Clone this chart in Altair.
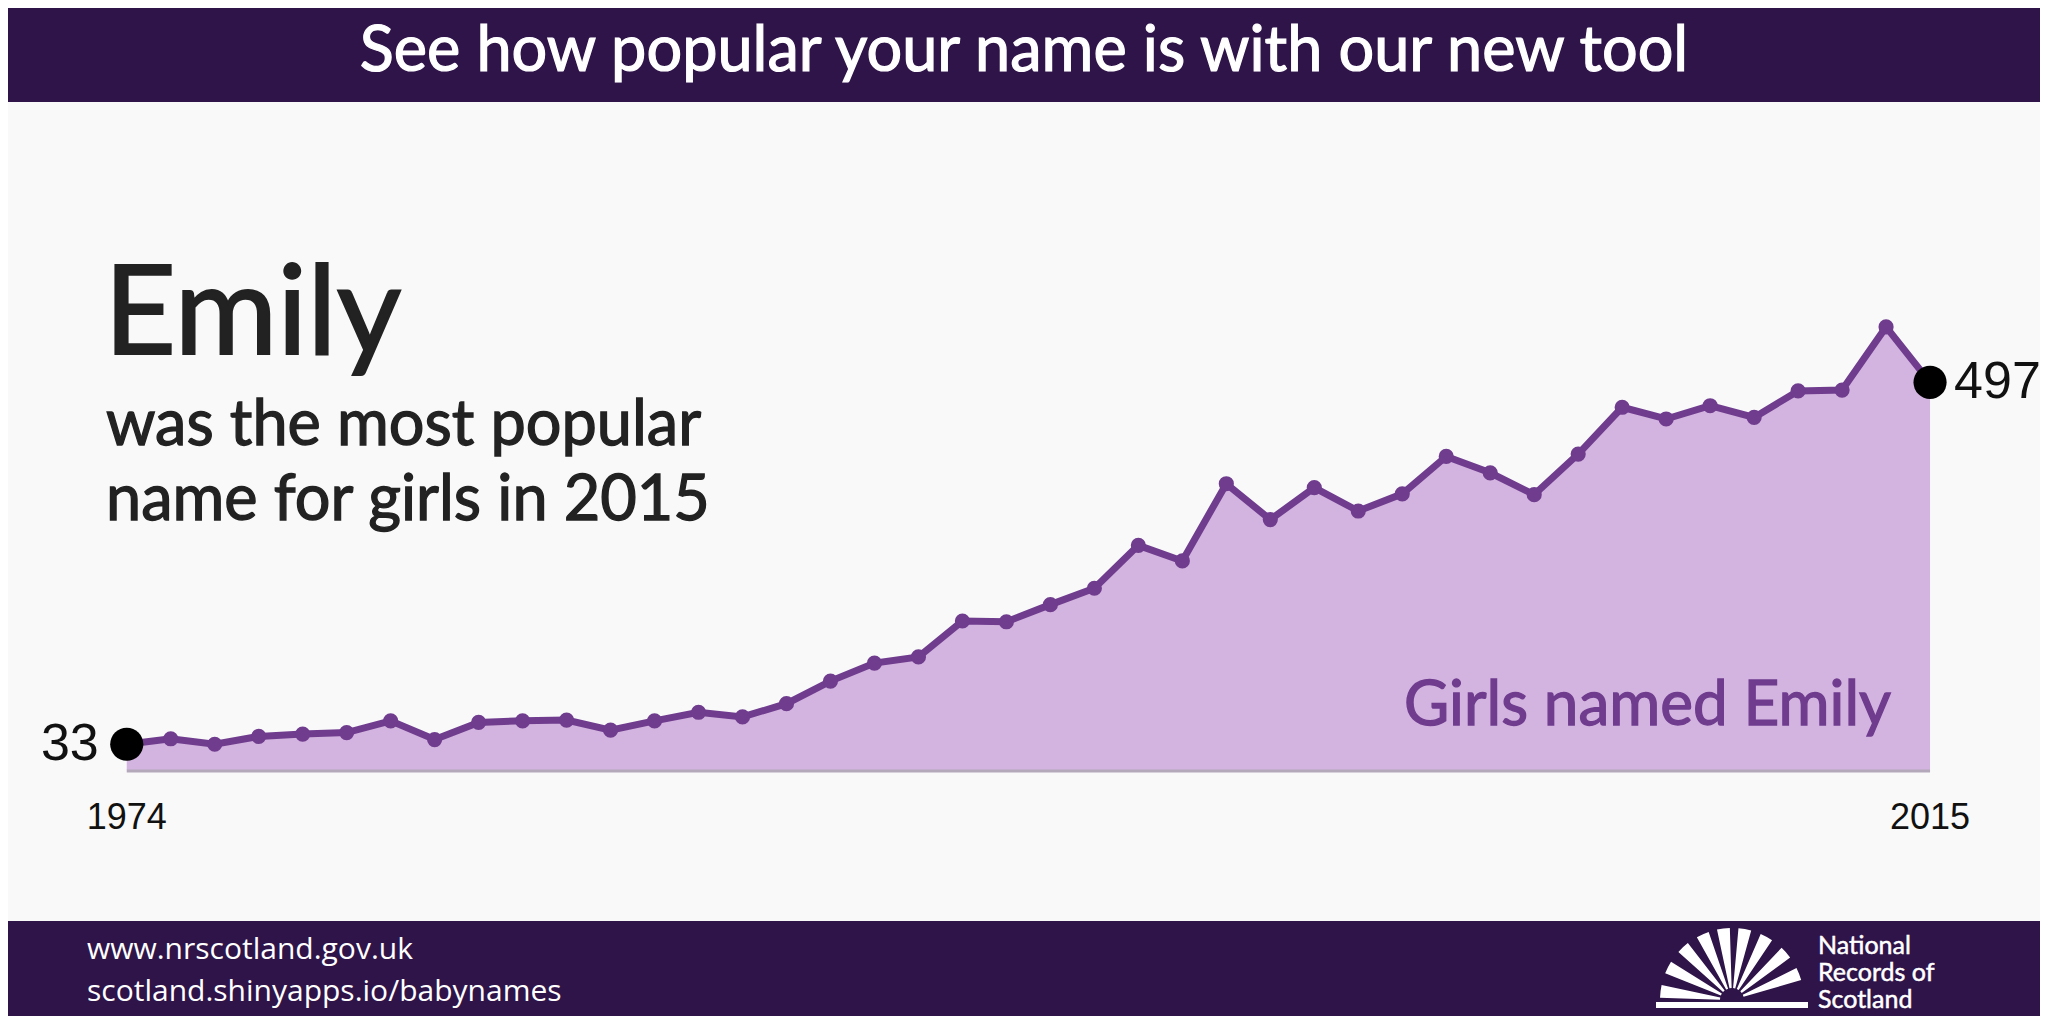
import altair as alt
import pandas as pd

years = list(range(1974, 2016))
counts = [33, 40, 33, 43, 46, 48, 63, 39, 61, 63, 64, 51, 63, 74, 68, 85,
          114, 137, 145, 191, 190, 212, 233, 288, 268, 367, 321, 362, 332, 354,
          402, 381, 353, 405, 465, 450, 467, 452, 486, 487, 568, 497]

title_text = "See how popular your name is with our new tool"
name_text = "Emily"
sub_lines = ["was the most popular", "name for girls in 2015"]
series_label = "Girls named Emily"
footer_lines = ["www.nrscotland.gov.uk", "scotland.shinyapps.io/babynames"]
logo_lines = ["National", "Records of", "Scotland"]

W, H = 2032, 1008
PURPLE_DARK = "#2f1449"
PURPLE = "#6f3c8e"
FILL = "#d3b3df"

df = pd.DataFrame({"year": years, "count": counts})
ends = df[df["year"].isin([years[0], years[-1]])]

xs = alt.Scale(domain=[1971.30, 2017.50], nice=False, zero=False)
ys = alt.Scale(domain=[-315.4, 976.9], nice=False, zero=False)
X = alt.X("year:Q", scale=xs, axis=None)
Y = alt.Y("count:Q", scale=ys, axis=None)

base = alt.Chart(df)

area = base.mark_area(color=FILL, opacity=1).encode(x=X, y=Y, y2=alt.datum(0))
baseline = base.mark_rule(color="#b3a9bb", strokeWidth=3).transform_aggregate(
    x0="min(year)", x1="max(year)"
).encode(x=alt.X("x0:Q", scale=xs, axis=None), x2="x1:Q", y=alt.value(763))
line = base.mark_line(color=PURPLE, strokeWidth=7).encode(x=X, y=Y)
pts = base.mark_circle(color=PURPLE, size=230, opacity=1).encode(x=X, y=Y)
end_pts = alt.Chart(ends).mark_circle(color="black", size=1100, opacity=1).encode(x=X, y=Y)

start_lbl = alt.Chart(ends[ends["year"] == years[0]]).mark_text(
    align="right", baseline="middle", dx=-28, fontSize=52, font="Liberation Sans", color="#111"
).encode(x=X, y=Y, text="count:Q")
end_lbl = alt.Chart(ends[ends["year"] == years[-1]]).mark_text(
    align="left", baseline="middle", dx=24, fontSize=52, font="Liberation Sans", color="#111"
).encode(x=X, y=Y, text="count:Q")
year_lbl = alt.Chart(ends).mark_text(
    align="center", baseline="alphabetic", fontSize=36, font="Liberation Sans", color="#111"
).encode(x=X, y=alt.value(821), text="year:Q")

def rect(y0, y1):
    return alt.Chart(pd.DataFrame({"a": [0]})).mark_rect(color=PURPLE_DARK).encode(
        x=alt.value(0), x2=alt.value(W), y=alt.value(y0), y2=alt.value(y1))

header = rect(0, 94)
footer = rect(913, H)

def txt(t, x, y, size, color, align="left", font="Lato", stroke=0.0, dx_scale=None):
    kw = dict(align=align, baseline="alphabetic", fontSize=size, font=font, color=color)
    if stroke > 0:
        kw.update(stroke=color, strokeWidth=stroke)
    return alt.Chart(pd.DataFrame({"t": [t]})).mark_text(**kw).encode(
        x=alt.value(x), y=alt.value(y), text="t:N")

texts = [
    txt(title_text, 1016, 63, 63, "white", align="center", stroke=1.2),
    txt(name_text, 96, 346, 125, "#222", stroke=2.0),
    txt(sub_lines[0], 98, 437, 63, "#222", stroke=1.3),
    txt(sub_lines[1], 98, 512, 63, "#222", stroke=1.3),
    txt(series_label, 1883, 717, 62, PURPLE, align="right", stroke=1.3),
    txt(footer_lines[0], 79, 951, 30, "white", font="Open Sans"),
    txt(footer_lines[1], 79, 993, 30, "white", font="Open Sans"),
]
for i, l in enumerate(logo_lines):
    texts.append(txt(l, 1810, 946 + 27 * i, 25, "white", stroke=0.5))

# logo fan
fan_angles = [-1.45, -1.1, -0.75, -0.42, -0.12, 0.18, 0.5, 0.85, 1.2]
fan = pd.DataFrame({"t": [a - 0.09 for a in fan_angles], "t2": [a + 0.09 for a in fan_angles]})
logo_fan = alt.Chart(fan).mark_arc(color="white", outerRadius=72, innerRadius=12).encode(
    theta=alt.Theta("t:Q", scale=None), theta2="t2:Q",
    x=alt.value(1724), y=alt.value(992))
book = alt.Chart(pd.DataFrame({"a": [0]})).mark_rect(color="white").encode(
    x=alt.value(1648), x2=alt.value(1800), y=alt.value(994), y2=alt.value(1000))

chart = alt.layer(
    area, baseline, line, pts, end_pts, start_lbl, end_lbl, year_lbl,
    header, footer, *texts, logo_fan, book
).properties(
    width=W, height=H, background="#f9f9f9", padding=0,
    autosize=alt.AutoSizeParams(type="none")
).configure_view(stroke=None)

chart.save("out.html", embed_options={"renderer": "svg", "actions": False})
